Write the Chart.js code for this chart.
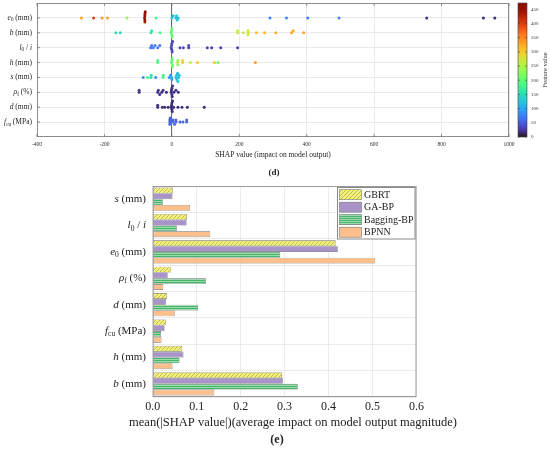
<!DOCTYPE html>
<html><head><meta charset="utf-8">
<script src="https://cdn.jsdelivr.net/npm/chart.js@4.4.1/dist/chart.umd.min.js"></script>
<style>
html,body{margin:0;padding:0;background:#fff;}
#wrap{position:relative;width:550px;height:449px;overflow:hidden;background:#fff;}
canvas{position:absolute;left:0;top:0;}
.lab{position:absolute;font-family:"Liberation Serif",serif;font-weight:bold;color:#222;transform:translate(-50%,-50%);white-space:nowrap;}
</style></head><body>
<div id="wrap">
<canvas id="c2" width="550" height="449" style="width:550px;height:449px"></canvas>
<canvas id="c1" width="550" height="449" style="width:550px;height:449px"></canvas>
<div class="lab" style="left:274px;top:172px;font-size:9px">(d)</div>
<div class="lab" style="left:277px;top:439px;font-size:12px">(e)</div>
</div>
<script>
// ---------- DATA: panel (d) SHAP beeswarm ----------
const shapRows = ['*e*_{0} (mm)', '*b* (mm)', '*l*_{0} / *i*', '*h* (mm)', '*s* (mm)', '*ρ*_{f} (%)', '*d* (mm)', '*f*_{cu} (MPa)'];
const shapTicks = [-400, -200, 0, 200, 400, 600, 800, 1000];
const featureTicks = [0, 50, 100, 150, 200, 250, 300, 350, 400, 450];
// each point: [SHAP value, feature value]
const ptsE0 = [[-268,330],[-232,400],[-207,340],[-191,335],[-133,230],
  [-80,440],[-80,445],[-81,450],[-79,455],[-80,460],[-80,430],[-47,190],
  [0,130],[4,125],[12,120],[16,125],[19,125],[14,130],
  [291,80],[340,80],[403,75],[496,80],[756,20],[924,15],[958,15]];
const ptsB = [[-166,150],[-153,145],[-60,155],[-62,160],[-35,185],
  [0,200],[-1,205],[1,210],[0,200],[-2,195],
  [195,265],[195,260],[212,270],[226,275],[226,270],[226,265],
  [251,310],[275,315],[308,320],[355,330],[360,325],[391,330]];
const ptsL0i = [[-60,70],[-55,75],[-50,70],[-63,65],[-36,75],[-42,70],
  [-2,35],[0,30],[1,40],[-1,35],[2,30],[0,38],
  [24,35],[34,35],[50,30],[50,35],[105,30],[118,30],[145,30],[195,30]];
const ptsH = [[-42,190],[-42,185],[1,210],[0,205],[2,215],[-1,205],[1,200],
  [17,270],[18,230],[18,225],[32,300],[32,290],[55,260],[76,300],[126,300],[137,210],[248,335]];
const ptsS = [[-85,85],[-72,175],[-62,150],[-61,155],[-48,90],[-26,185],[-25,175],
  [-8,95],[-4,90],[-1,100],[0,95],
  [12,120],[15,125],[18,130],[20,120],[22,125],[14,115],[17,118]];
const ptsRho = [[-97,20],[-97,22],[-42,18],[-36,20],[-30,18],[-40,22],[-26,20],[-16,18],
  [0,20],[1,18],[-1,22],[0,19],[2,20],[-2,18],[6,20],[19,20],[12,18]];
const ptsD = [[-42,15],[-42,18],[-28,15],[-21,18],[-11,15],
  [0,15],[1,18],[-1,15],[0,16],[2,15],[-2,17],[5,15],[18,15],[30,18],[46,15],[96,15]];
const ptsFcu = [[-6,50],[-6,55],[-5,52],[-6,58],[3,55],[3,60],[12,55],[12,50],[24,55],[33,55],[44,60],[44,52],[8,58]];
const shapPoints = [ptsE0, ptsB, ptsL0i, ptsH, ptsS, ptsRho, ptsD, ptsFcu];
const featureMax = 472;

// ---------- DATA: panel (e) mean |SHAP| ----------
const impCats = ['*s* (mm)', '*l*_{0} / *i*', '*e*_{0} (mm)', '*ρ*_{f} (%)', '*d* (mm)', '*f*_{cu} (MPa)', '*h* (mm)', '*b* (mm)'];
const models = ['GBRT', 'GA-BP', 'Bagging-BP', 'BPNN'];
const valGBRT    = [0.046, 0.078, 0.416, 0.042, 0.032, 0.030, 0.067, 0.294];
const valGABP    = [0.045, 0.077, 0.421, 0.034, 0.030, 0.027, 0.070, 0.296];
const valBagging = [0.023, 0.055, 0.290, 0.121, 0.103, 0.019, 0.061, 0.330];
const valBPNN    = [0.085, 0.131, 0.506, 0.024, 0.050, 0.020, 0.045, 0.140];
const impTicks = [0, 0.1, 0.2, 0.3, 0.4, 0.5, 0.6];
const impTitle = 'mean(|SHAP value|)(average impact on model output magnitude)';

// ---------- helpers ----------
const SERIF = '"Liberation Serif", "Times New Roman", serif';
function turbo(t){
  t = Math.max(0, Math.min(1, t));
  const r = 0.13572138 + t*(4.61539260 + t*(-42.66032258 + t*(132.13108234 + t*(-152.94239396 + t*59.28637943))));
  const g = 0.09140261 + t*(2.19418839 + t*(4.84296658 + t*(-14.18503333 + t*(4.27729857 + t*2.82956604))));
  const b = 0.10667330 + t*(12.64194608 + t*(-60.58204836 + t*(110.36276771 + t*(-89.90310912 + t*27.34824973))));
  const c = v => Math.round(255*Math.max(0, Math.min(1, v)));
  return 'rgb(' + c(r) + ',' + c(g) + ',' + c(b) + ')';
}
function parseRich(s){
  const out = []; let buf = '', it = false, i = 0;
  const flush = () => { if (buf) out.push({t: buf, it: it, sub: false}); buf = ''; };
  while (i < s.length){
    const c = s[i];
    if (c === '*'){ flush(); it = !it; i++; }
    else if (c === '_' && s[i+1] === '{'){ flush(); const j = s.indexOf('}', i); out.push({t: s.slice(i+2, j), it: false, sub: true}); i = j + 1; }
    else { buf += c; i++; }
  }
  flush(); return out;
}
function drawRich(ctx, str, xr, y, size, color){
  const parts = parseRich(str);
  const fontOf = p => (p.it ? 'italic ' : '') + (p.sub ? size*0.68 : size) + 'px ' + SERIF;
  let w = 0;
  parts.forEach(p => { ctx.font = fontOf(p); w += ctx.measureText(p.t).width; });
  let x = xr - w;
  ctx.save(); ctx.fillStyle = color; ctx.textBaseline = 'middle'; ctx.textAlign = 'left';
  parts.forEach(p => { ctx.font = fontOf(p); ctx.fillText(p.t, x, y + (p.sub ? size*0.28 : 0)); x += ctx.measureText(p.t).width; });
  ctx.restore();
}
function swarmOffsets(points){
  const idx = points.map((p, i) => i).sort((a, b) => points[a][0] - points[b][0]);
  const placed = []; const off = new Array(points.length);
  const seq = [0, -1, 1, -2, 2, -3, 3, -4, 4, -5, 5];
  for (const i of idx){
    const x = points[i][0];
    const near = placed.filter(p => Math.abs(p.x - x) < 7).map(p => p.k);
    let k = 0;
    for (const s of seq){ if (!near.includes(s)){ k = s; break; } }
    placed.push({x: x, k: k}); off[i] = k;
  }
  return off;
}

// ---------- chart (d) ----------
const scatterData = [], scatterColors = [];
shapPoints.forEach((pts, r) => {
  const off = swarmOffsets(pts);
  pts.forEach((p, i) => { scatterData.push({x: p[0], y: r + 1 + off[i]*0.14}); scatterColors.push(turbo(p[1]/featureMax)); });
});

const topPlugin = {
  id: 'topDeco',
  afterDraw(chart){
    const ctx = chart.ctx, a = chart.chartArea, ys = chart.scales.y, cb = chart.scales.cb;
    ctx.save();
    ctx.strokeStyle = '#8c8c8c'; ctx.lineWidth = 1;
    ctx.strokeRect(a.left + 0.5, a.top + 0.5, a.right - a.left - 1, a.bottom - a.top - 1);
    ctx.strokeStyle = '#777'; ctx.lineWidth = 0.8;
    shapRows.forEach((s, r) => { const y = ys.getPixelForValue(r + 1); ctx.beginPath(); ctx.moveTo(a.left, y); ctx.lineTo(a.left + 3, y); ctx.stroke(); });
    shapTicks.forEach(v => { const x = chart.scales.x.getPixelForValue(v); ctx.beginPath(); ctx.moveTo(x, a.bottom); ctx.lineTo(x, a.bottom - 3); ctx.moveTo(x, a.top); ctx.lineTo(x, a.top + 3); ctx.stroke(); });
    ctx.restore();
    shapRows.forEach((s, r) => drawRich(ctx, s, 32, ys.getPixelForValue(r + 1), 7.5, '#222'));
    // colour bar
    const x0 = 518, x1 = 527, yTop = cb.getPixelForValue(featureMax), yBot = cb.getPixelForValue(0);
    const g = ctx.createLinearGradient(0, yBot, 0, yTop);
    for (let i = 0; i <= 40; i++) g.addColorStop(i/40, turbo(i/40));
    ctx.save();
    ctx.fillStyle = g; ctx.fillRect(x0, yTop, x1 - x0, yBot - yTop);
    ctx.strokeStyle = '#444'; ctx.lineWidth = 0.6; ctx.strokeRect(x0, yTop, x1 - x0, yBot - yTop);
    ctx.fillStyle = '#333'; ctx.font = '5px ' + SERIF; ctx.textAlign = 'left'; ctx.textBaseline = 'middle';
    featureTicks.forEach(v => {
      const y = cb.getPixelForValue(v);
      ctx.beginPath(); ctx.moveTo(x1, y); ctx.lineTo(x1 - 2, y); ctx.moveTo(x0, y); ctx.lineTo(x0 + 2, y); ctx.stroke();
      ctx.fillText(String(v), 531, y);
    });
    ctx.translate(545, (yTop + yBot)/2); ctx.rotate(-Math.PI/2);
    ctx.font = '6.5px ' + SERIF; ctx.textAlign = 'center';
    ctx.fillText('Feature value', 0, 0);
    ctx.restore();
  }
};

new Chart(document.getElementById('c1'), {
  type: 'scatter',
  data: { datasets: [{ data: scatterData, pointBackgroundColor: scatterColors, pointBorderWidth: 0, pointRadius: 1.5, pointHoverRadius: 1.5 }] },
  options: {
    responsive: false, animation: false, devicePixelRatio: 1,
    layout: { padding: { left: 0, top: 3, right: 0, bottom: 289 } },
    plugins: { legend: { display: false }, tooltip: { enabled: false } },
    scales: {
      x: {
        type: 'linear', min: -400, max: 1000,
        afterBuildTicks: s => { s.ticks = shapTicks.map(v => ({value: v})); },
        afterFit: s => { s.height = 23; },
        grid: { color: c => (c.tick && c.tick.value === 0) ? '#6e6e6e' : '#e4e4e4', drawTicks: false, lineWidth: c => (c.tick && c.tick.value === 0) ? 1.1 : 0.8 },
        border: { display: false },
        ticks: { font: { family: SERIF, size: 5.5 }, color: '#333', padding: 4, callback: v => String(v) },
        title: { display: true, text: 'SHAP value (impact on model output)', font: { family: SERIF, size: 7.5 }, color: '#222', padding: { top: 0, bottom: 0 } }
      },
      y: {
        type: 'linear', min: 0, max: 9, reverse: true, position: 'left',
        afterBuildTicks: s => { s.ticks = shapRows.map((r, i) => ({value: i + 1})); },
        afterFit: s => { s.width = 37; },
        grid: { color: '#e4e4e4', drawTicks: false, lineWidth: 0.8 },
        border: { display: false },
        ticks: { display: false }
      },
      cb: {
        type: 'linear', min: 0, max: featureMax, position: 'right',
        afterFit: s => { s.width = 41; },
        grid: { display: false, drawTicks: false },
        border: { display: false },
        ticks: { display: false }
      }
    }
  },
  plugins: [topPlugin]
});

// ---------- chart (e) ----------
const c2 = document.getElementById('c2');
const ctx2 = c2.getContext('2d');
function makePattern(kind){
  const p = document.createElement('canvas');
  if (kind === 'diag'){
    p.width = 4; p.height = 4; const x = p.getContext('2d');
    x.fillStyle = '#f3f17c'; x.fillRect(0, 0, 4, 4);
    x.strokeStyle = '#b9b348'; x.lineWidth = 0.9; x.beginPath();
    x.moveTo(0, 4); x.lineTo(4, 0); x.moveTo(-1, 1); x.lineTo(1, -1); x.moveTo(3, 5); x.lineTo(5, 3); x.stroke();
  } else {
    p.width = 4; p.height = 2; const x = p.getContext('2d');
    x.fillStyle = '#45b56a'; x.fillRect(0, 0, 4, 2);
    x.fillStyle = '#9bdbad'; x.fillRect(0, 1, 4, 1);
  }
  return ctx2.createPattern(p, 'repeat');
}
const fills = [makePattern('diag'), '#a894c9', makePattern('h'), '#fdbf8c'];
const seriesVals = [valGBRT, valGABP, valBagging, valBPNN];

const bottomPlugin = {
  id: 'bottomDeco',
  afterDraw(chart){
    const ctx = chart.ctx, a = chart.chartArea, ys = chart.scales.y;
    ctx.save();
    ctx.strokeStyle = '#9a9a9a'; ctx.lineWidth = 1;
    ctx.strokeRect(a.left + 0.5, a.top + 0.5, a.right - a.left - 1, a.bottom - a.top - 1);
    ctx.fillStyle = '#222'; ctx.font = '12.5px ' + SERIF; ctx.textAlign = 'center'; ctx.textBaseline = 'middle';
    ctx.fillText(impTitle, 293, 423);
    ctx.restore();
    impCats.forEach((s, i) => drawRich(ctx, s, 146, ys.getPixelForValue(i), 11, '#222'));
    // legend
    const L = 337.5, T = 187.5, R = 415, B = 239;
    ctx.save();
    ctx.fillStyle = '#fff'; ctx.fillRect(L, T, R - L, B - T);
    ctx.strokeStyle = '#8a8a8a'; ctx.lineWidth = 1; ctx.strokeRect(L, T, R - L, B - T);
    chart.data.datasets.forEach((d, i) => {
      const yc = 194.7 + i*12.5;
      ctx.fillStyle = d.backgroundColor; ctx.fillRect(339.5, yc - 5, 22, 10);
      ctx.strokeStyle = '#777'; ctx.lineWidth = 0.6; ctx.strokeRect(339.5, yc - 5, 22, 10);
      ctx.fillStyle = '#222'; ctx.font = '10px ' + SERIF; ctx.textBaseline = 'middle'; ctx.textAlign = 'left';
      ctx.fillText(d.label, 364, yc + 0.5);
    });
    ctx.restore();
  }
};

new Chart(c2, {
  type: 'bar',
  data: {
    labels: impCats,
    datasets: models.map((m, i) => ({ label: m, data: seriesVals[i], backgroundColor: fills[i], borderColor: '#6a6a6a', borderWidth: 0.6, barPercentage: 1, categoryPercentage: 0.88 }))
  },
  options: {
    indexAxis: 'y', responsive: false, animation: false, devicePixelRatio: 1,
    layout: { padding: { left: 0, top: 186, right: 133.5, bottom: 20.7 } },
    plugins: { legend: { display: false }, tooltip: { enabled: false } },
    scales: {
      x: {
        type: 'linear', min: 0, max: 0.6,
        afterBuildTicks: s => { s.ticks = impTicks.map(v => ({value: v})); },
        afterFit: s => { s.height = 31.3; },
        grid: { color: '#e6e6e6', drawTicks: false, lineWidth: 0.8 },
        border: { display: false },
        ticks: { font: { family: SERIF, size: 12 }, color: '#222', padding: 3, callback: v => v.toFixed(1) },
        title: { display: false }
      },
      y: {
        type: 'category',
        afterFit: s => { s.width = 152.7; },
        grid: { color: '#e6e6e6', drawTicks: false, lineWidth: 0.8, offset: true },
        border: { display: false },
        ticks: { display: false }
      }
    }
  },
  plugins: [bottomPlugin]
});
</script>
</body></html>
